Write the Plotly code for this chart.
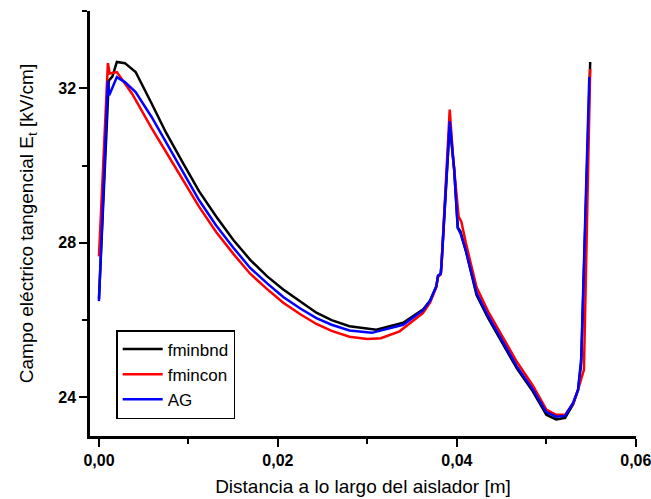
import plotly.graph_objects as go

# ---- data ----
x_fminbnd = [0.0, 0.0011, 0.0015, 0.002, 0.0029, 0.0041, 0.0059, 0.0075, 0.0094, 0.0112,
             0.0131, 0.015, 0.0169, 0.0188, 0.0206, 0.0225, 0.0243, 0.026, 0.028, 0.031,
             0.034, 0.0362, 0.037, 0.0377, 0.0379, 0.0382, 0.0383, 0.0392, 0.0397, 0.0401,
             0.0404, 0.041, 0.0422, 0.0435, 0.0448, 0.0467, 0.0485, 0.050, 0.0511, 0.0521,
             0.053, 0.05355, 0.0539, 0.0549]
y_fminbnd = [26.55, 32.2, 32.3, 32.68, 32.65, 32.42, 31.6, 30.85, 30.06, 29.33,
             28.68, 28.08, 27.56, 27.13, 26.79, 26.47, 26.19, 26.0, 25.84, 25.75,
             25.93, 26.27, 26.5, 26.87, 27.15, 27.2, 27.5, 31.05, 29.9, 28.4,
             28.3, 27.8, 26.65, 26.05, 25.52, 24.75, 24.15, 23.55, 23.43, 23.47,
             23.82, 24.2, 24.9, 32.68]

x_fmincon = [0.0, 0.001, 0.0012, 0.002, 0.0037, 0.0059, 0.0075, 0.0094, 0.0112, 0.0131,
             0.015, 0.0169, 0.0188, 0.0206, 0.0225, 0.0243, 0.026, 0.028, 0.030, 0.0315,
             0.0336, 0.0362, 0.037, 0.0377, 0.0379, 0.0382, 0.0383, 0.0392, 0.0396, 0.0402,
             0.0405, 0.041, 0.0422, 0.0435, 0.0448, 0.0467, 0.0485, 0.050, 0.0511, 0.0521,
             0.053, 0.05355, 0.0541, 0.0542, 0.0549]
y_fmincon = [27.65, 32.65, 32.38, 32.42, 31.86, 30.96, 30.35, 29.62, 28.93, 28.28,
             27.72, 27.2, 26.8, 26.45, 26.15, 25.9, 25.72, 25.57, 25.51, 25.53,
             25.71, 26.18, 26.45, 26.85, 27.12, 27.18, 27.5, 31.45, 30.14, 28.68,
             28.55, 28.0, 26.85, 26.22, 25.7, 24.92, 24.3, 23.68, 23.55, 23.55,
             23.85, 24.2, 24.64, 24.7, 32.5]

x_ag = [0.0, 0.001, 0.00115, 0.002, 0.0029, 0.0041, 0.0059, 0.0075, 0.0094, 0.0112,
        0.0131, 0.015, 0.0169, 0.0188, 0.0206, 0.0225, 0.0243, 0.026, 0.028, 0.0305,
        0.034, 0.0362, 0.037, 0.0377, 0.0379, 0.0382, 0.0383, 0.0392, 0.0397, 0.0401,
        0.0404, 0.041, 0.0422, 0.0435, 0.0448, 0.0467, 0.0485, 0.050, 0.0511, 0.0521,
        0.053, 0.05355, 0.0539, 0.0548]
y_ag = [26.49, 32.2, 31.82, 32.29, 32.16, 31.9, 31.25, 30.6, 29.8, 29.1,
        28.45, 27.88, 27.35, 26.95, 26.6, 26.3, 26.05, 25.88, 25.73, 25.67,
        25.88, 26.25, 26.5, 26.87, 27.15, 27.2, 27.5, 31.15, 29.9, 28.38,
        28.25, 27.8, 26.7, 26.1, 25.58, 24.8, 24.2, 23.62, 23.5, 23.52,
        23.86, 24.2, 25.02, 32.29]

series_names = ["fminbnd", "fmincon", "AG"]
series_colors = ["#000000", "#ff0000", "#0000ff"]

x_title = "Distancia a lo largo del aislador [m]"
y_title = "Campo eléctrico tangencial E<sub>t</sub> [kV/cm]"

fig = go.Figure()
for name, xs, ys, col in zip(series_names,
                             [x_fminbnd, x_fmincon, x_ag],
                             [y_fminbnd, y_fmincon, y_ag],
                             series_colors):
    fig.add_trace(go.Scatter(x=xs, y=ys, mode="lines", name=name,
                             line=dict(color=col, width=2.5)))

font_family = "Liberation Sans, Arial, sans-serif"

fig.update_layout(
    width=651, height=499,
    margin=dict(l=90, r=15, t=11, b=63),
    paper_bgcolor="white", plot_bgcolor="white",
    separators=",.",
    font=dict(family=font_family, color="black"),
    showlegend=True,
    legend=dict(x=0.048, y=0.04, xanchor="left", yanchor="bottom",
                bordercolor="black", borderwidth=1.5, bgcolor="white",
                font=dict(size=17, family=font_family),
                tracegroupgap=0, itemwidth=40),
)

fig.update_xaxes(
    range=[-0.001, 0.06002], showgrid=False, zeroline=False, automargin=False,
    showline=True, linecolor="black", linewidth=2.5,
    ticks="outside", ticklen=8, tickwidth=2, tickcolor="black",
    tick0=0, dtick=0.02, tickformat=".2f", ticklabeloverflow="allow",
    minor=dict(ticks="outside", ticklen=5, tickwidth=2, tickcolor="black", dtick=0.01, tick0=0),
    tickfont=dict(size=16, family=font_family, weight="bold"),
    title=dict(text=x_title, font=dict(size=19, family=font_family), standoff=12),
)
fig.update_yaxes(
    range=[23, 34], showgrid=False, zeroline=False, automargin=False,
    showline=True, linecolor="black", linewidth=2.5,
    ticks="outside", ticklen=8, tickwidth=2, tickcolor="black",
    tick0=24, dtick=4, ticklabeloverflow="allow",
    minor=dict(ticks="outside", ticklen=5, tickwidth=2, tickcolor="black", dtick=2, tick0=24),
    tickfont=dict(size=16, family=font_family, weight="bold"),
    title=dict(text=y_title, font=dict(size=19, family=font_family), standoff=20),
)

fig.write_html("out.html", config={"displayModeBar": False},
               post_script="document.body.style.margin='0';")
